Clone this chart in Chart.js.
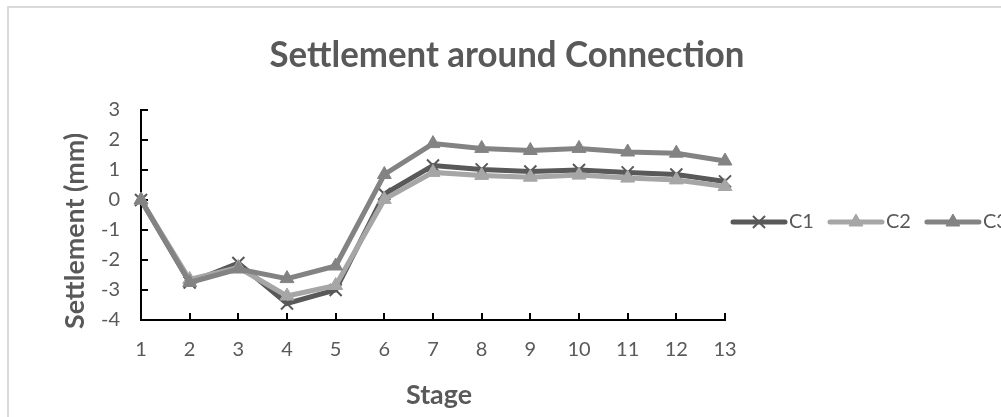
<!DOCTYPE html>
<html>
<head>
<meta charset="utf-8">
<title>Settlement around Connection</title>
<script src="https://cdn.jsdelivr.net/npm/chart.js@4/dist/chart.umd.min.js"></script>
<style>
  html, body { margin: 0; padding: 0; background: #ffffff; overflow: hidden; }
  #wrap { width: 1001px; height: 417px; position: relative; }
</style>
</head>
<body>
<div id="wrap"><canvas id="chart" width="1001" height="417"></canvas></div>
<script>
// Construction stages along the horizontal axis
const stages = ['1', '2', '3', '4', '5', '6', '7', '8', '9', '10', '11', '12', '13'];

// Settlement readings (mm) at each monitoring point
const c1 = [0, -2.75, -2.1, -3.45, -3.0, 0.2, 1.15, 1.02, 0.95, 1.0, 0.92, 0.85, 0.62];
const c2 = [0, -2.65, -2.25, -3.2, -2.85, 0.02, 0.92, 0.82, 0.76, 0.83, 0.73, 0.67, 0.45];
const c3 = [0, -2.75, -2.3, -2.62, -2.2, 0.85, 1.88, 1.72, 1.65, 1.72, 1.6, 1.56, 1.3];

const seriesNames = ['C1', 'C2', 'C3'];

// Vertical axis range and step (mm)
const yMin = -4;
const yMax = 3;
const yStep = 1;

const chartTitle = 'Settlement around Connection';
const xTitle = 'Stage';
const yTitle = 'Settlement (mm)';

const FONT = "Lato, 'Open Sans', sans-serif";
const TEXT = '#595959';

Chart.defaults.font.family = FONT;
Chart.defaults.color = TEXT;

const seriesStyle = [
  { color: '#595959', pointStyle: 'crossRot', radius: 8.5, pointBorderWidth: 2 },
  { color: '#a6a6a6', pointStyle: 'triangle', radius: 8, pointBorderWidth: 1 },
  { color: '#838383', pointStyle: 'triangle', radius: 8, pointBorderWidth: 1 }
];

function makeDataset(label, data, style, order) {
  return {
    label: label,
    data: data,
    borderColor: style.color,
    backgroundColor: style.color,
    borderWidth: 5,
    tension: 0,
    pointStyle: style.pointStyle,
    pointRadius: style.radius,
    pointHoverRadius: style.radius,
    pointBackgroundColor: style.color,
    pointBorderColor: style.color,
    pointBorderWidth: style.pointBorderWidth,
    order: order
  };
}

// Draws a text centred on (x, y), squeezed along its baseline to a given length
function drawFittedText(ctx, text, x, y, font, length, vertical) {
  ctx.save();
  ctx.translate(x, y);
  if (vertical) ctx.rotate(-Math.PI / 2);
  ctx.font = font;
  const w = ctx.measureText(text).width;
  ctx.scale(length / w, 1);
  ctx.fillStyle = TEXT;
  ctx.textAlign = 'center';
  ctx.textBaseline = 'middle';
  ctx.fillText(text, 0, 0);
  ctx.restore();
}

// Light outer frame of the chart object
const framePlugin = {
  id: 'frame',
  beforeDraw(chart) {
    const ctx = chart.ctx;
    ctx.save();
    ctx.fillStyle = '#ffffff';
    ctx.fillRect(0, 0, chart.width, chart.height);
    ctx.strokeStyle = '#d9d9d9';
    ctx.lineWidth = 2;
    ctx.strokeRect(8, 7, chart.width + 20, chart.height + 20);
    ctx.restore();
  }
};

// Tick marks pointing into the plot area
const innerTicksPlugin = {
  id: 'innerTicks',
  beforeDatasetsDraw(chart) {
    const ctx = chart.ctx;
    const xs = chart.scales.x;
    const ys = chart.scales.y;
    const area = chart.chartArea;
    const len = 7;
    ctx.save();
    ctx.strokeStyle = '#000000';
    ctx.lineWidth = 2;
    ctx.beginPath();
    xs.ticks.forEach((t, i) => {
      const px = Math.round(xs.getPixelForTick(i));
      ctx.moveTo(px, area.bottom);
      ctx.lineTo(px, area.bottom - len);
    });
    ys.ticks.forEach((t, i) => {
      const py = Math.round(ys.getPixelForTick(i));
      ctx.moveTo(area.left, py);
      ctx.lineTo(area.left + len, py);
    });
    ctx.stroke();
    ctx.restore();
  }
};

// Chart title and both axis titles
const titlesPlugin = {
  id: 'titles',
  afterDraw(chart) {
    const ctx = chart.ctx;
    const area = chart.chartArea;
    drawFittedText(ctx, chartTitle, 507, 55, 'bold 36px ' + FONT, 475, false);
    drawFittedText(ctx, xTitle, (area.left + area.right) / 2 + 6, 395, 'bold 27px ' + FONT, 66, false);
    drawFittedText(ctx, yTitle, 75, (area.top + area.bottom + 32) / 2, 'bold 27px ' + FONT, 196, true);
  }
};

// Horizontal legend row with line-and-marker keys
const legendRowPlugin = {
  id: 'legendRow',
  afterDraw(chart) {
    const ctx = chart.ctx;
    const y = 222;
    let x = 733;
    const keyLen = 52;
    ctx.save();
    ctx.font = '20px ' + FONT;
    ctx.textBaseline = 'middle';
    ctx.textAlign = 'left';
    chart.data.datasets.forEach((ds, i) => {
      const st = seriesStyle[i];
      ctx.strokeStyle = st.color;
      ctx.fillStyle = st.color;
      ctx.lineWidth = 5;
      ctx.lineCap = 'round';
      ctx.beginPath();
      ctx.moveTo(x, y);
      ctx.lineTo(x + keyLen, y);
      ctx.stroke();
      ctx.lineCap = 'butt';
      ctx.lineWidth = st.pointBorderWidth;
      Chart.helpers.drawPoint(ctx, {
        pointStyle: st.pointStyle,
        radius: st.radius,
        rotation: 0,
        borderWidth: st.pointBorderWidth
      }, x + keyLen / 2, y);
      ctx.fillStyle = TEXT;
      ctx.fillText(ds.label, x + keyLen + 4, y);
      const w = ctx.measureText(ds.label).width;
      x += keyLen + 4 + w + 16;
    });
    ctx.restore();
  }
};

new Chart(document.getElementById('chart'), {
  type: 'line',
  data: {
    labels: stages,
    datasets: [
      makeDataset(seriesNames[0], c1, seriesStyle[0], 3),
      makeDataset(seriesNames[1], c2, seriesStyle[1], 2),
      makeDataset(seriesNames[2], c3, seriesStyle[2], 1)
    ]
  },
  options: {
    responsive: false,
    animation: false,
    devicePixelRatio: 1,
    layout: { padding: { left: 0, right: 276, top: 110, bottom: 0 } },
    plugins: {
      legend: { display: false },
      tooltip: { enabled: false },
      title: { display: false }
    },
    scales: {
      x: {
        type: 'category',
        offset: false,
        grid: { display: false, drawTicks: false },
        border: { display: true, color: '#000000', width: 2 },
        ticks: {
          color: TEXT,
          font: { size: 20 },
          padding: 18,
          autoSkip: false,
          maxRotation: 0
        },
        afterFit(scale) { scale.height = 97; }
      },
      y: {
        min: yMin,
        max: yMax,
        grid: { display: false, drawTicks: false },
        border: { display: true, color: '#000000', width: 2 },
        ticks: {
          stepSize: yStep,
          color: TEXT,
          font: { size: 20 },
          padding: 21
        },
        afterFit(scale) { scale.width = 141; }
      }
    }
  },
  plugins: [framePlugin, innerTicksPlugin, titlesPlugin, legendRowPlugin]
});
</script>
</body>
</html>
